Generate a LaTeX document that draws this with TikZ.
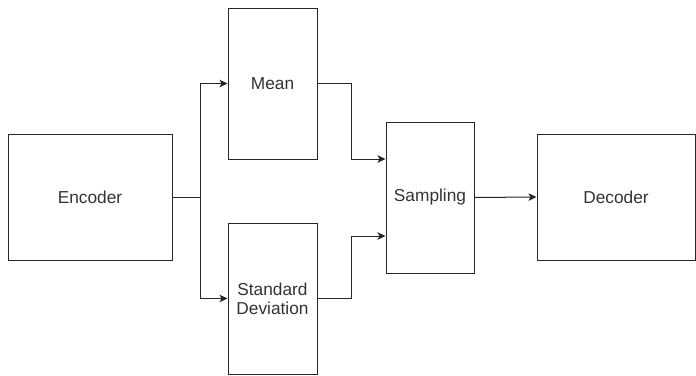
\documentclass[tikz,border=0pt]{standalone}
\usepackage{fontspec}
\setmainfont{Liberation Sans}
\usetikzlibrary{arrows.meta}
\begin{document}
\begin{tikzpicture}[x=1pt,y=-1pt,
  box/.style={draw=black!85, line width=1pt, inner sep=0pt, font=\fontsize{17.3}{19}\selectfont, text=black!80, align=center},
  conn/.style={draw=black!85, line width=1pt},
  arr/.style={conn, -{Stealth[length=8pt,width=7.5pt,inset=2pt]}}]
\useasboundingbox (0,0) rectangle (696,375);
\node[box, minimum width=164pt, minimum height=126pt] (enc) at (90,197) {Encoder};
\node[box, minimum width=89pt, minimum height=151pt] (mean) at (272.5,83.5) {Mean};
\node[box, minimum width=89pt, minimum height=151pt] (std) at (272.5,298.5) {Standard\\Deviation};
\node[box, minimum width=88pt, minimum height=151pt] (samp) at (430,197.5) {Sampling};
\node[box, minimum width=158pt, minimum height=126pt] (dec) at (616,197) {Decoder};
\draw[arr] (enc.east) -- ++(28,0) |- (mean.west);
\draw[arr] (enc.east) -- ++(28,0) |- (std.west);
\draw[arr] (mean.east) -- ++(34,0) |- ([yshift=38.5pt]samp.west);
\draw[arr] (std.east) -- ++(34,0) |- ([yshift=-38.5pt]samp.west);
\draw[arr] (samp.east) -- (dec.west);
\end{tikzpicture}
\end{document}
